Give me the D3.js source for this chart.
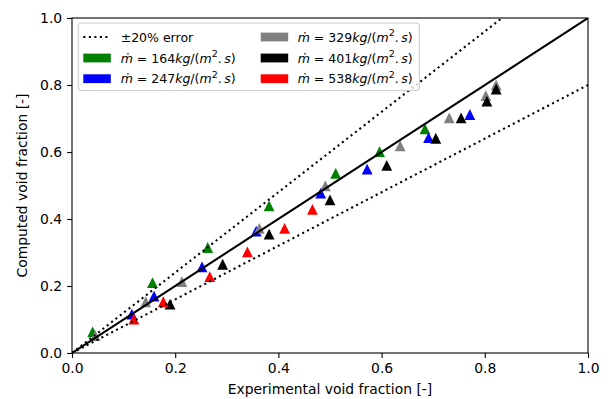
<!DOCTYPE html>
<html><head><meta charset="utf-8">
<script src="https://cdn.jsdelivr.net/npm/d3@7"></script>
<style>body{margin:0;background:#fff;} text{font-family:"DejaVu Sans",sans-serif;}</style>
</head><body>
<svg id="c" width="610" height="399"></svg>
<script>
// ---- data ----
const xTicks = [0.0, 0.2, 0.4, 0.6, 0.8, 1.0];
const yTicks = [0.0, 0.2, 0.4, 0.6, 0.8, 1.0];
const fluxLabels = ["164", "247", "329", "401", "538"];
const seriesColors = ["green", "#0000ff", "gray", "black", "#ff0000"];
const x164 = [0.040, 0.156, 0.263, 0.382, 0.511, 0.596, 0.684];
const y164 = [0.063, 0.210, 0.315, 0.439, 0.536, 0.601, 0.669];
const x247 = [0.116, 0.159, 0.252, 0.357, 0.482, 0.572, 0.691, 0.771];
const y247 = [0.116, 0.170, 0.257, 0.364, 0.477, 0.549, 0.643, 0.712];
const x329 = [0.045, 0.143, 0.213, 0.363, 0.491, 0.636, 0.731, 0.802, 0.822];
const y329 = [0.052, 0.153, 0.213, 0.372, 0.499, 0.618, 0.702, 0.768, 0.800];
const x401 = [0.190, 0.292, 0.382, 0.500, 0.610, 0.705, 0.754, 0.804, 0.822];
const y401 = [0.146, 0.265, 0.355, 0.457, 0.560, 0.641, 0.702, 0.752, 0.788];
const x538 = [0.120, 0.177, 0.267, 0.340, 0.412, 0.466];
const y538 = [0.101, 0.153, 0.228, 0.302, 0.372, 0.429];
const seriesX = [x164, x247, x329, x401, x538];
const seriesY = [y164, y247, y329, y401, y538];
const errorFactors = [1.2, 0.8];

// ---- layout ----
const L = 72, R = 588, T = 18, B = 353;
const svg = d3.select("#c");
const xs = d3.scaleLinear().domain([0, 1]).range([L, R]);
const ys = d3.scaleLinear().domain([0, 1]).range([B, T]);

svg.append("defs").append("clipPath").attr("id", "clip")
  .append("rect").attr("x", L).attr("y", T).attr("width", R - L).attr("height", B - T);

const plot = svg.append("g").attr("clip-path", "url(#clip)");

// markers
const h = 5.4;
const tri = `M0,${-h}L${-h},${h}L${h},${h}Z`;
seriesX.forEach((xa, i) => {
  plot.selectAll(null).data(xa.map((v, j) => [v, seriesY[i][j]])).enter()
    .append("path").attr("d", tri)
    .attr("transform", d => `translate(${xs(d[0])},${ys(d[1])})`)
    .attr("fill", seriesColors[i]);
});

// lines
const line = d3.line().x(d => xs(d[0])).y(d => ys(d[1]));
plot.append("path").attr("d", line([[0, 0], [1, 1]]))
  .attr("stroke", "black").attr("stroke-width", 2.08).attr("fill", "none");
errorFactors.forEach(f => {
  plot.append("path").attr("d", line([[0, 0], [1, f]]))
    .attr("stroke", "black").attr("stroke-width", 2.08).attr("fill", "none")
    .attr("stroke-dasharray", "2.08,3.44");
});

// axes
const fmt = d3.format(".1f");
const xAxis = svg.append("g").attr("transform", `translate(0,${B})`)
  .call(d3.axisBottom(xs).tickValues(xTicks).tickFormat(fmt).tickSize(4.9).tickPadding(4.9));
const yAxis = svg.append("g").attr("transform", `translate(${L},0)`)
  .call(d3.axisLeft(ys).tickValues(yTicks).tickFormat(fmt).tickSize(4.9).tickPadding(4.9));
[xAxis, yAxis].forEach(a => {
  a.select(".domain").remove();
  a.selectAll("line").attr("stroke", "black").attr("stroke-width", 1.1);
  a.selectAll("text").attr("font-size", "13.9px").attr("fill", "black")
    .attr("font-family", "DejaVu Sans");
});
svg.append("rect").attr("x", L).attr("y", T).attr("width", R - L).attr("height", B - T)
  .attr("fill", "none").attr("stroke", "black").attr("stroke-width", 1.1);

svg.append("text").attr("x", (L + R) / 2).attr("y", 394).attr("text-anchor", "middle")
  .attr("font-size", "13.9px").text("Experimental void fraction [-]");
svg.append("text").attr("transform", `translate(27,${(T + B) / 2}) rotate(-90)`)
  .attr("text-anchor", "middle").attr("font-size", "13.9px").text("Computed void fraction [-]");

// legend
const lg = svg.append("g");
lg.append("rect").attr("x", 78.3).attr("y", 23).attr("width", 341).attr("height", 67.5)
  .attr("rx", 3).attr("fill", "white").attr("fill-opacity", 0.8)
  .attr("stroke", "#cccccc").attr("stroke-width", 1.1);
const rowsY = [37, 58, 78.7];
const colHX = [83.3, 260.7], colTX = [120.7, 297.7];
const hw = 27.5;
const entries = [{type: "err"}].concat(fluxLabels.map((f, i) => ({type: "patch", flux: f, color: seriesColors[i]})));
entries.forEach((e, k) => {
  const col = Math.floor(k / 3), row = k % 3;
  const hx = colHX[col], ty = rowsY[row];
  if (e.type === "err") {
    lg.append("line").attr("x1", hx).attr("x2", hx + hw).attr("y1", ty).attr("y2", ty)
      .attr("stroke", "black").attr("stroke-width", 2.08).attr("stroke-dasharray", "2.08,3.44");
    lg.append("text").attr("x", colTX[col]).attr("y", ty + 4.5).attr("font-size", "12.5px").text("±20% error");
  } else {
    lg.append("rect").attr("x", hx).attr("y", ty - 4.4).attr("width", hw).attr("height", 8.8).attr("fill", e.color);
    const t = lg.append("text").attr("x", colTX[col]).attr("y", ty + 4.5).attr("font-size", "12.5px");
    t.append("tspan").attr("font-style", "italic").text("ṁ");
    t.append("tspan").text(" = " + e.flux);
    t.append("tspan").attr("font-style", "italic").text("kg");
    t.append("tspan").text("/(");
    t.append("tspan").attr("font-style", "italic").text("m");
    t.append("tspan").attr("font-size", "9.5px").attr("dy", -5.5).text("2");
    t.append("tspan").attr("dy", 5.5).text(".\u2009");
    t.append("tspan").attr("font-style", "italic").text("s");
    t.append("tspan").text(")");
  }
});
</script>
</body></html>
